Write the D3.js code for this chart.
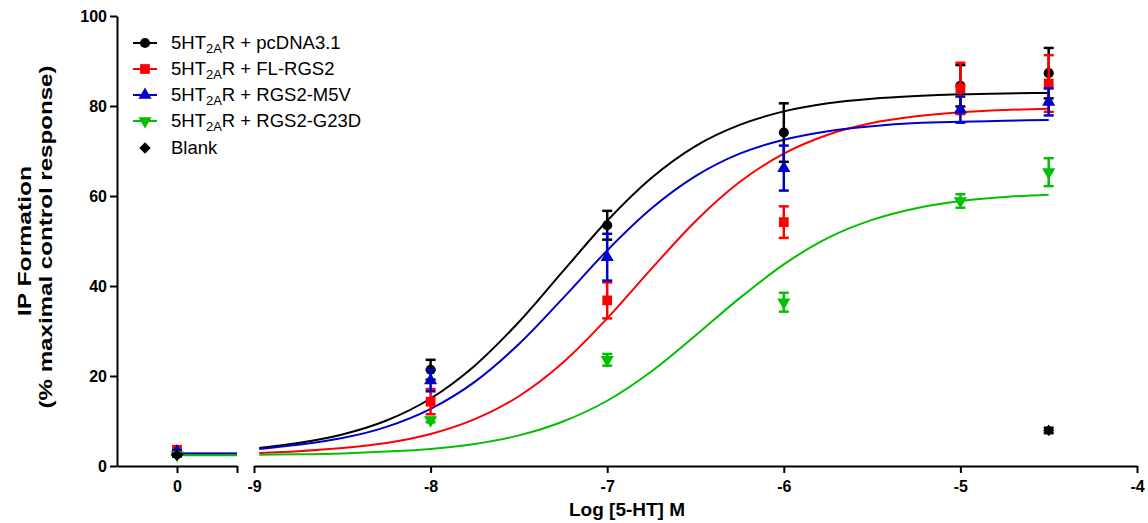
<!DOCTYPE html>
<html><head><meta charset="utf-8">
<script src="https://cdn.jsdelivr.net/npm/d3@7/dist/d3.min.js"></script>
<style>
body{margin:0;background:#fff;}
svg{display:block;font-family:"Liberation Sans",Arial,sans-serif;}
</style></head>
<body><svg id="c" width="1148" height="523"></svg>
<script>
// ---------- data ----------
const seriesNames = ["pcDNA3.1","FL-RGS2","RGS2-M5V","RGS2-G23D"];
const seriesColors = ["#000000","#ff0000","#0000c8","#00c000"];
const seriesSymbols = ["circle","square","triangle","triangleDown"];
const doseX = [-8,-7,-6,-5,-4.5];            // log [5-HT] M
// control (no 5-HT, plotted at "0")
const zeroMean = [2.7,3.6,3.2,2.5];
const zeroSem  = [0.3,0.3,0.3,0.3];
// means at doseX
const meanBlack = [21.4,53.5,74.1,84.5,87.3];
const meanRed   = [14.3,36.8,54.2,83.9,85.0];
const meanBlue  = [19.0,46.4,66.2,79.2,80.9];
const meanGreen = [10.2,23.6,36.4,58.9,65.3];
const semBlack = [2.2,3.2,6.5,4.6,5.6];
const semRed   = [2.8,4.0,3.5,5.7,6.3];
const semBlue  = [2.4,5.2,5.0,2.9,3.0];
const semGreen = [0.5,1.3,2.1,1.5,3.1];
// blank
const blankX = [0,-4.5];
const blankMean = [2.4,7.9];
const blankSem = [0.3,0.6];
// fitted curves
const curveX = [-8.97,-8.75,-8.5,-8.25,-8,-7.75,-7.5,-7.25,-7,-6.75,-6.5,-6.25,-6,-5.75,-5.5,-5.25,-5,-4.75,-4.5];
const curveBlack = [4.0,5.1,7.0,10.1,15.0,22.3,32.0,43.3,54.5,64.0,71.1,75.8,78.8,80.6,81.6,82.2,82.6,82.8,82.9];
const curveRed   = [2.9,3.3,4.0,5.1,7.1,10.4,15.5,23.0,32.8,43.8,54.4,63.1,69.4,73.6,76.2,77.7,78.6,79.1,79.4];
const curveBlue  = [3.8,4.7,6.2,8.7,12.7,18.7,27.1,37.3,47.9,57.2,64.4,69.4,72.5,74.4,75.5,76.2,76.5,76.7,76.9];
const curveGreen = [2.5,2.6,2.8,3.2,3.8,4.9,6.8,9.9,14.5,21.0,29.0,37.3,44.8,50.7,54.7,57.3,58.9,59.8,60.3];
const zeroCurve = [2.7,2.5,2.8,2.4];   // flat fit lines over the control segment
const yTicks = [0,20,40,60,80,100];
const xTicksR = [-9,-8,-7,-6,-5,-4];

const means = [meanBlack,meanRed,meanBlue,meanGreen];
const sems = [semBlack,semRed,semBlue,semGreen];
const curves = [curveBlack,curveRed,curveBlue,curveGreen];

// ---------- layout ----------
const svg = d3.select("#c");
const y = d3.scaleLinear().domain([0,100]).range([466,16]);
const xL = d3.scaleLinear().domain([-1,1]).range([117,237]);
const xR = d3.scaleLinear().domain([-9,-4]).range([254,1137]);

function symbolPath(name, size){
  if(name==="circle") return d3.symbol(d3.symbolCircle, size||80)();
  if(name==="square") return d3.symbol(d3.symbolSquare, size||95)();
  if(name==="triangle") return d3.symbol(d3.symbolTriangle, size||75)();
  if(name==="triangleDown") return d3.symbol(d3.symbolTriangle, size||75)();
  if(name==="diamond") return d3.symbol(d3.symbolSquare, size||64)();
}
function drawMarker(g, name, cx, cy, color, size){
  let rot = name==="triangleDown" ? " rotate(180)" : (name==="diamond" ? " rotate(45)" : "");
  g.append("path").attr("d", symbolPath(name,size))
    .attr("transform", `translate(${cx},${cy})` + rot)
    .attr("fill", color);
}

// axes
const axStyle = g => {
  g.selectAll("path,line").attr("stroke","#000").attr("stroke-width",2);
  g.selectAll("text").attr("font-size",16).attr("font-weight","bold").attr("fill","#000")
   .attr("font-family","'Liberation Sans',Arial,sans-serif");
};
svg.append("g").attr("transform","translate(117,0)")
  .call(d3.axisLeft(y).tickValues(yTicks).tickSize(7).tickSizeOuter(0).tickPadding(3))
  .call(axStyle);
svg.append("g").attr("transform","translate(0,466)")
  .call(d3.axisBottom(xL).tickValues([0,1]).tickFormat(d=>d===0?"0":"").tickSize(7).tickSizeOuter(0).tickPadding(8))
  .call(axStyle);
svg.append("g").attr("transform","translate(0,466)")
  .call(d3.axisBottom(xR).tickValues(xTicksR).tickFormat(d=>String(d)).tickSize(7).tickSizeOuter(0).tickPadding(8))
  .call(axStyle);

// titles
svg.append("text").attr("x",(117+1137)/2).attr("y",516).attr("text-anchor","middle")
  .attr("font-size",19).attr("font-weight","bold").text("Log [5-HT] M");
const yt1 = svg.append("g").attr("transform","translate(31,241) rotate(-90) scale(1.3,1)");
yt1.append("text").attr("x",0).attr("y",0).attr("text-anchor","middle")
  .attr("font-size",19).attr("font-weight","bold").text("IP Formation");
const yt2 = svg.append("g").attr("transform","translate(52,237) rotate(-90) scale(1.27,1)");
yt2.append("text").attr("x",0).attr("y",0).attr("text-anchor","middle")
  .attr("font-size",19).attr("font-weight","bold").text("(% maximal control response)");

// curves
const lineR = d3.line().x(d=>xR(d[0])).y(d=>y(d[1])).curve(d3.curveMonotoneX);
const plot = svg.append("g");
curves.forEach((c,i)=>{
  plot.append("path").attr("d", lineR(curveX.map((xv,j)=>[xv,c[j]])))
    .attr("fill","none").attr("stroke",seriesColors[i]).attr("stroke-width",2);
  plot.append("line").attr("x1",xL(0)).attr("x2",xL(1))
    .attr("y1",y(zeroCurve[i])).attr("y2",y(zeroCurve[i]))
    .attr("stroke",seriesColors[i]).attr("stroke-width",2);
});

// error bars + markers
function errBar(g, cx, m, s, color){
  const t=y(m+s), b=y(m-s);
  g.append("line").attr("x1",cx).attr("x2",cx).attr("y1",t).attr("y2",b).attr("stroke",color).attr("stroke-width",2.5);
  [t,b].forEach(yy=>g.append("line").attr("x1",cx-5).attr("x2",cx+5).attr("y1",yy).attr("y2",yy)
    .attr("stroke",color).attr("stroke-width",2.5));
}
means.forEach((arr,i)=>{
  const g = plot.append("g");
  errBar(g, xL(0), zeroMean[i], zeroSem[i], seriesColors[i]);
  drawMarker(g, seriesSymbols[i], xL(0), y(zeroMean[i]), seriesColors[i]);
  arr.forEach((m,j)=>{
    errBar(g, xR(doseX[j]), m, sems[i][j], seriesColors[i]);
    drawMarker(g, seriesSymbols[i], xR(doseX[j]), y(m), seriesColors[i]);
  });
});
blankX.forEach((bx,j)=>{
  const cx = bx===0 ? xL(0) : xR(bx);
  errBar(plot, cx, blankMean[j], blankSem[j], "#000");
  drawMarker(plot, "diamond", cx, y(blankMean[j]), "#000");
});

// legend
const legY = [43,69,95,121,148];
const leg = svg.append("g");
seriesNames.forEach((n,i)=>{
  leg.append("line").attr("x1",133).attr("x2",157).attr("y1",legY[i]).attr("y2",legY[i])
    .attr("stroke",seriesColors[i]).attr("stroke-width",2);
  drawMarker(leg, seriesSymbols[i], 145, legY[i], seriesColors[i]);
  const t = leg.append("text").attr("x",171).attr("y",legY[i]+6).attr("font-size",18.5);
  t.append("tspan").text("5HT");
  t.append("tspan").attr("font-size",13).attr("dy",4).text("2A");
  t.append("tspan").attr("dy",-4).text("R + " + n);
});
drawMarker(leg, "diamond", 145, legY[4], "#000");
leg.append("text").attr("x",171).attr("y",legY[4]+6).attr("font-size",18.5).text("Blank");
</script></body></html>
